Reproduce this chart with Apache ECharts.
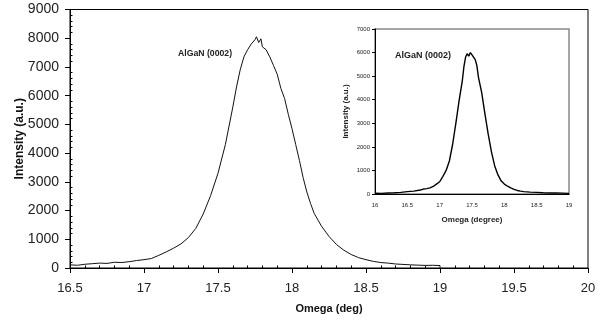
<!DOCTYPE html>
<html>
<head>
<meta charset="utf-8">
<script src="https://cdn.jsdelivr.net/npm/echarts@6/dist/echarts.min.js"></script>
<style>html,body{margin:0;padding:0;background:#fff}#c{width:602px;height:320px}</style>
</head>
<body>
<div id="c"></div>
<script>
// Main scan: Omega (deg) and Intensity (a.u.)
var mainOmega = [16.50,16.55,16.60,16.65,16.70,16.75,16.80,16.85,16.90,16.95,17.00,17.05,17.10,17.15,17.20,17.25,17.30,17.35,17.40,17.45,17.50,17.55,17.60,17.625,17.65,17.675,17.70,17.725,17.75,17.76,17.775,17.79,17.80,17.825,17.85,17.875,17.90,17.925,17.95,17.975,18.00,18.025,18.05,18.075,18.10,18.125,18.15,18.20,18.25,18.30,18.35,18.40,18.45,18.50,18.55,18.60,18.65,18.70,18.75,18.80,18.85,18.90,18.95,19.00,19.00];
var mainIntensity = [110,95,130,150,170,160,200,190,220,260,290,330,440,560,690,840,1060,1380,1880,2520,3300,4300,5600,6300,6900,7350,7600,7800,7950,8050,7850,7980,7700,7600,7350,7050,6750,6250,5900,5350,4850,4300,3750,3150,2650,2250,1900,1450,1100,820,620,470,360,290,230,190,170,140,125,110,100,90,95,85,0];
// Inset scan: Omega (degree) and Intensity (a.u.)
var insetOmega = [16.00,16.10,16.20,16.30,16.40,16.50,16.60,16.70,16.75,16.80,16.85,16.90,16.95,17.00,17.05,17.10,17.15,17.20,17.25,17.30,17.35,17.375,17.40,17.425,17.45,17.475,17.50,17.525,17.55,17.575,17.60,17.65,17.70,17.75,17.80,17.85,17.90,17.95,18.00,18.05,18.10,18.15,18.20,18.25,18.30,18.40,18.50,18.60,18.70,18.80,18.90,19.00];
var insetIntensity = [30,25,40,50,70,100,120,170,210,230,260,320,420,520,750,1000,1400,2100,3000,3950,4800,5400,5800,5950,5850,6000,5900,5950,5700,5450,4950,4300,3400,2550,1800,1200,820,560,420,330,260,200,150,120,100,80,70,50,45,40,35,25];
// Axis ranges / tick steps
var mainXTicks = {min:16.5, max:20, step:0.5};
var mainYTicks = {min:0, max:9000, step:1000};
var insetXTicks = {min:16, max:19, step:0.5};
var insetYTicks = {min:0, max:7000, step:1000};
var peakLabel = 'AlGaN (0002)';

function pairs(xs, ys){ return xs.map(function(x,i){ return [x, ys[i]]; }); }
function plain(v){ return String(v); }

var FONT = 'Liberation Sans, Arial, sans-serif';
var chart = echarts.init(document.getElementById('c'), null, {renderer:'canvas'});

function ax(gi, t, o){
  return Object.assign({
    type:'value', gridIndex:gi, min:t.min, max:t.max, interval:t.step,
    axisLine:{show:true, onZero:false, lineStyle:{color:'#000', width:1}},
    splitLine:{show:false}, nameMoveOverlap:false
  }, o);
}

var option = {
  animation:false,
  backgroundColor:'#fff',
  grid:[
    {left:70, right:14, top:9.5, bottom:52, show:true, borderColor:'#000', borderWidth:1, backgroundColor:'#fff', containLabel:false, outerBoundsMode:'none'},
    {left:375, right:33, top:29, bottom:126, show:true, borderColor:'#888', borderWidth:1.5, backgroundColor:'#fff', containLabel:false, outerBoundsMode:'none'}
  ],
  xAxis:[
    ax(0, mainXTicks, {
      position:'bottom',
      axisTick:{show:true, inside:false, length:5, lineStyle:{color:'#000'}},
      axisLabel:{color:'#222', fontSize:13, fontFamily:FONT, margin:14, formatter:plain},
      name:'Omega (deg)', nameLocation:'middle', nameGap:35,
      nameTextStyle:{color:'#111', fontSize:11, fontWeight:'bold', fontFamily:FONT}
    }),
    ax(0, mainXTicks, {
      position:'bottom',
      axisTick:{show:false, inside:true},
      minorTick:{show:true, splitNumber:5, length:2.5, lineStyle:{color:'#000'}},
      axisLabel:{show:false}
    }),
    ax(1, insetXTicks, {
      position:'bottom',
      axisTick:{show:false},
      axisLabel:{color:'#222', fontSize:6, fontFamily:FONT, margin:8, formatter:plain},
      name:'Omega (degree)', nameLocation:'middle', nameGap:22,
      nameTextStyle:{color:'#222', fontSize:8, fontWeight:'bold', fontFamily:FONT}
    })
  ],
  yAxis:[
    ax(0, mainYTicks, {
      position:'left',
      axisTick:{show:true, inside:false, length:5, lineStyle:{color:'#000'}},
      axisLabel:{color:'#222', fontSize:14, fontFamily:FONT, margin:11, formatter:plain},
      name:'Intensity (a.u.)', nameLocation:'middle', nameGap:44,
      nameTextStyle:{color:'#111', fontSize:12, fontWeight:'bold', fontFamily:FONT}
    }),
    ax(0, mainYTicks, {
      position:'left',
      axisTick:{show:false, inside:true},
      minorTick:{show:true, splitNumber:5, length:2.5, lineStyle:{color:'#000'}},
      axisLabel:{show:false}
    }),
    ax(1, insetYTicks, {
      position:'left',
      axisTick:{show:true, inside:false, length:3, lineStyle:{color:'#000'}},
      axisLabel:{color:'#222', fontSize:6, fontFamily:FONT, margin:5, formatter:plain},
      name:'Intensity (a.u.)', nameLocation:'middle', nameGap:25,
      nameTextStyle:{color:'#222', fontSize:8, fontWeight:'bold', fontFamily:FONT}
    })
  ],
  series:[
    {type:'line', xAxisIndex:0, yAxisIndex:0, data:pairs(mainOmega, mainIntensity),
     showSymbol:false, lineStyle:{color:'#111', width:1}, z:3},
    {type:'line', xAxisIndex:2, yAxisIndex:2, data:pairs(insetOmega, insetIntensity),
     showSymbol:false, lineStyle:{color:'#000', width:1.4}, z:5}
  ],
  graphic:[
    {type:'text', left:178, top:49, z:10, style:{text:peakLabel, fill:'#222', font:'bold 8.7px ' + FONT}},
    {type:'text', left:395, top:51, z:10, style:{text:peakLabel, fill:'#222', font:'bold 9px ' + FONT}}
  ]
};
chart.setOption(option);
</script>
</body>
</html>
